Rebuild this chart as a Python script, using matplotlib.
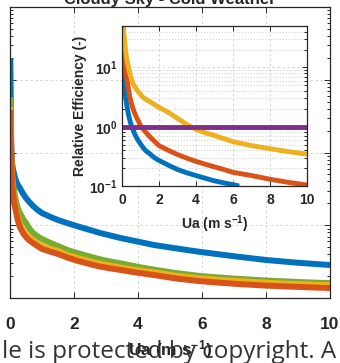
import matplotlib
matplotlib.use("Agg")
import matplotlib.pyplot as plt
from matplotlib.ticker import LogLocator, NullFormatter, FixedLocator

plt.rcParams['font.family'] = ['Liberation Sans', 'DejaVu Sans']
plt.rcParams['mathtext.fontset'] = 'custom'
plt.rcParams['mathtext.rm'] = 'Liberation Sans:bold'
plt.rcParams['mathtext.it'] = 'Liberation Sans:bold'
plt.rcParams['mathtext.bf'] = 'Liberation Sans:bold'

# ---------------- data ----------------
title_text = "Cloudy Sky - Cold Weather"
xlabel_text = "Ua (m s$^{-1}$)"
inset_ylabel = "Relative Efficiency (-)"
watermark = "le is protected by copyright. A"

x_ticks = [0, 2, 4, 6, 8, 10]

# main panel (log y)
main_x = [0.01, 0.02, 0.03, 0.045, 0.06, 0.08, 0.1, 0.15, 0.2, 0.25, 0.31, 0.4,
          0.5, 0.6, 0.72, 0.85, 1.0, 1.25, 1.5, 1.79, 2.1, 2.5, 2.82, 3.1, 3.45,
          4.0, 4.5, 5.2, 5.96, 7.0, 8.0, 9.0, 10.0]
main_blue = [1991, 600, 204, 110, 78.9, 64, 57.4, 46, 39.3, 35.5, 32.5, 27.5,
             23.7, 21.0, 18.4, 16.4, 14.7, 13.1, 11.8, 10.7, 9.7, 8.6, 7.82, 7.3, 6.68,
             5.95, 5.35, 4.8, 4.29, 3.75, 3.33, 3.05, 2.84]
main_green = [580, 260, 149, 88, 61.2, 45, 35.7, 26, 20.2, 17.0, 14.7, 12.4,
              10.7, 9.1, 7.82, 7.1, 6.47, 5.75, 5.19, 4.57, 4.15, 3.7, 3.4, 3.2, 3.0,
              2.68, 2.45, 2.2, 2.0, 1.85, 1.74, 1.66, 1.6]
main_yellow = [422, 195, 119, 70, 49.1, 36, 28.6, 20.3, 15.7, 12.7, 10.4, 8.7,
               7.56, 6.8, 6.27, 5.7, 5.19, 4.75, 4.43, 3.9, 3.55, 3.2, 2.95, 2.8, 2.62,
               2.4, 2.25, 2.02, 1.85, 1.72, 1.62, 1.55, 1.5]
main_orange = [384, 175, 108, 64, 44.6, 33, 26.1, 18.5, 14.3, 11.5, 9.46, 7.9,
               6.89, 6.2, 5.7, 5.2, 4.72, 4.35, 4.03, 3.6, 3.25, 2.92, 2.7, 2.57, 2.43,
               2.22, 2.07, 1.85, 1.7, 1.57, 1.48, 1.42, 1.37]

# inset (relative efficiency)
in_yellow_x = [0.03, 0.05, 0.07, 0.1, 0.15, 0.2, 0.25, 0.3, 0.4, 0.5, 0.61, 0.8,
               1.0, 1.15, 1.5, 2.0, 2.5, 3.0, 3.5, 4.0, 4.5, 5.0, 5.5, 6.0, 7.0,
               8.0, 9.0, 10.0]
in_yellow_y = [70, 55, 46, 37, 26, 18.5, 14.5, 12, 8.6, 6.5, 5.2, 4.2,
               3.5, 3.1, 2.65, 2.12, 1.75, 1.38, 1.09, 0.9, 0.79, 0.71, 0.63, 0.56, 0.48,
               0.425, 0.38, 0.345]
in_orange_x = [0.05, 0.08, 0.1, 0.15, 0.2, 0.25, 0.34, 0.42, 0.52, 0.65, 0.79, 0.9,
               1.0, 1.25, 1.5, 1.75, 2.0, 2.5, 3.0, 3.5, 4.0, 4.5, 5.0, 5.5, 6.0,
               7.0, 8.0, 9.0, 10.0]
in_orange_y = [60, 40, 30, 16, 10, 7, 4.5, 3.2, 2.4, 1.8, 1.42, 1.22,
               1.05, 0.83, 0.68, 0.57, 0.48, 0.4, 0.34, 0.295, 0.26, 0.233, 0.21, 0.19, 0.17,
               0.15, 0.13, 0.115, 0.104]
in_blue_x = [0.02, 0.04, 0.06, 0.1, 0.15, 0.2, 0.25, 0.3, 0.35, 0.42, 0.5, 0.6,
             0.7, 0.79, 0.95, 1.15, 1.3, 1.5, 1.75, 2.0, 2.5, 3.0, 3.5, 4.0, 4.5,
             5.0, 5.5, 6.0, 6.34]
in_blue_y = [18, 12, 9, 6.2, 4.2, 3.1, 2.4, 1.95, 1.6, 1.3, 1.05, 0.88,
             0.74, 0.65, 0.54, 0.44, 0.39, 0.35, 0.3, 0.27, 0.225, 0.19, 0.167, 0.15, 0.135,
             0.122, 0.113, 0.105, 0.1]
in_purple_x = [0, 10]
in_purple_y = [1.0, 1.0]

C_BLUE = '#0072BD'
C_ORANGE = '#D95319'
C_YELLOW = '#EDB120'
C_PURPLE = '#7E2F8E'
C_GREEN = '#77AC30'
GRID = '#cfcfcf'
SPINE = '#262626'

W, H = 340, 363
fig = plt.figure(figsize=(W / 100, H / 100), dpi=100)


def frac(left, top, right, bottom):
    return [left / W, 1 - bottom / H, (right - left) / W, (bottom - top) / H]


# ---------------- main axes ----------------
ax = fig.add_axes(frac(10, 7, 330, 298))
ax.plot(main_x, main_blue, color=C_BLUE, lw=4.3, solid_capstyle='butt')
ax.plot(main_x, main_green, color=C_GREEN, lw=4.3, solid_capstyle='butt')
ax.plot(main_x, main_yellow, color=C_YELLOW, lw=4.3, solid_capstyle='butt')
ax.plot(main_x, main_orange, color=C_ORANGE, lw=4.3, solid_capstyle='butt')
ax.set_yscale('log')
ax.set_xlim(0, 10)
ax.set_ylim(1, 1e4)
ax.set_xticks(x_ticks)
ax.yaxis.set_major_locator(LogLocator(base=10, numticks=10))
ax.yaxis.set_minor_locator(LogLocator(base=10, subs=range(2, 10), numticks=20))
ax.yaxis.set_minor_formatter(NullFormatter())
ax.tick_params(axis='both', which='both', direction='in', top=True, right=True,
               colors=SPINE, width=0.7)
ax.tick_params(axis='both', which='major', length=4)
ax.tick_params(axis='both', which='minor', length=2.5)
ax.tick_params(axis='y', labelleft=False)
ax.tick_params(axis='x', labelsize=12.5, pad=14)
for lab in ax.get_xticklabels():
    lab.set_fontweight('bold')
    lab.set_color('#262626')
ax.grid(True, which='major', color=GRID, lw=0.6, ls=(0, (3, 3)))
for s in ax.spines.values():
    s.set_color(SPINE)
    s.set_linewidth(0.9)
ax.set_xlabel(xlabel_text, fontsize=12.5, fontweight='bold', color='#262626', labelpad=4)

# title (cut by the top of the picture)
fig.text(170 / W, 1 - 4 / H, title_text, ha='center', va='baseline',
         fontsize=12, fontweight='bold', color='#262626')

# ---------------- inset ----------------
ai = fig.add_axes(frac(122, 26, 307, 186))
ai.plot(in_blue_x, in_blue_y, color=C_BLUE, lw=3.5, solid_capstyle='butt')
ai.plot(in_orange_x, in_orange_y, color=C_ORANGE, lw=3.5, solid_capstyle='butt')
ai.plot(in_yellow_x, in_yellow_y, color=C_YELLOW, lw=3.5, solid_capstyle='butt')
ai.plot(in_purple_x, in_purple_y, color=C_PURPLE, lw=3.5, solid_capstyle='butt')
ai.set_yscale('log')
ai.set_xlim(0, 10)
ai.set_ylim(0.1, 50)
ai.set_xticks(x_ticks)
ai.yaxis.set_major_locator(FixedLocator([0.1, 1, 10]))
ai.yaxis.set_minor_locator(LogLocator(base=10, subs=range(2, 10), numticks=20))
ai.yaxis.set_minor_formatter(NullFormatter())
ai.set_yticklabels(['10$^{-1}$', '10$^{0}$', '10$^{1}$'])
ai.tick_params(axis='both', which='both', direction='in', top=True, right=True,
               colors=SPINE, width=0.7)
ai.tick_params(axis='both', which='major', length=3.5, labelsize=10)
ai.tick_params(axis='both', which='minor', length=2)
ai.tick_params(axis='x', pad=5)
ai.tick_params(axis='y', pad=3)
for lab in ai.get_xticklabels() + ai.get_yticklabels():
    lab.set_fontweight('bold')
    lab.set_color('#262626')
ai.grid(True, which='major', color=GRID, lw=0.6, ls=(0, (3, 3)))
ai.grid(True, which='minor', axis='y', color=GRID, lw=0.6, ls=(0, (1.5, 2)))
for s in ai.spines.values():
    s.set_color(SPINE)
    s.set_linewidth(0.9)
ai.set_xlabel(xlabel_text, fontsize=10, fontweight='bold', color='#262626', labelpad=5)
ai.set_ylabel(inset_ylabel, fontsize=10, fontweight='bold', color='#262626', labelpad=2)

# watermark overlay
fig.text(2 / W, 1 - 358 / H, watermark, ha='left', va='baseline',
         fontsize=17.5, family=['Open Sans', 'DejaVu Sans'], color='#333333')

fig.savefig('out.png', dpi=100)
